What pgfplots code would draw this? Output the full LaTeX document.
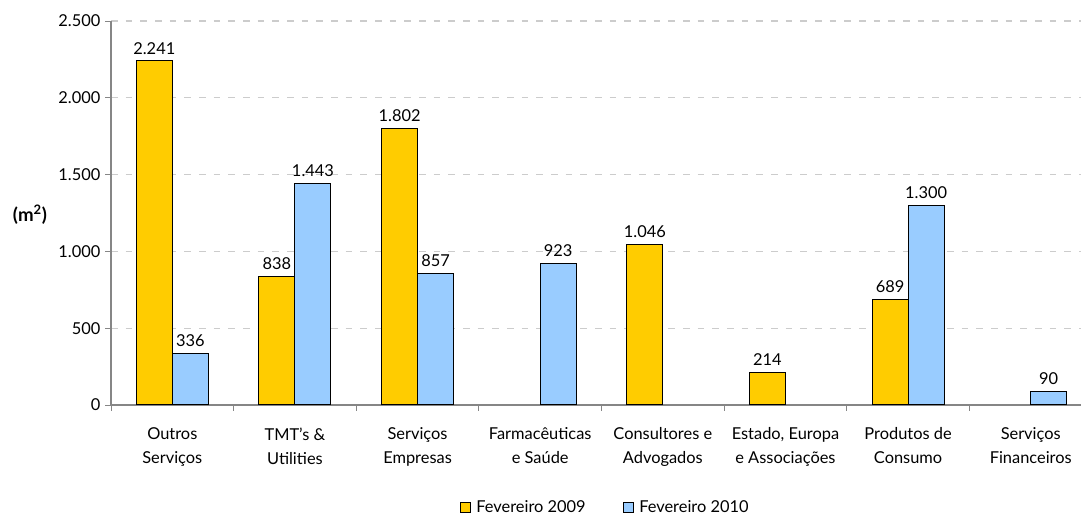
\documentclass[border=0pt]{standalone}
\usepackage{fontspec}
\setmainfont{Lato}
\usepackage{pgfplots}
\pgfplotsset{compat=1.18}
\definecolor{amarelo}{HTML}{FFCC00}
\definecolor{azul}{HTML}{99CCFF}
\definecolor{eixo}{HTML}{868686}
\begin{document}
\begin{tikzpicture}[font=\fontsize{12.3}{18}\selectfont]
\begin{axis}[
name=ax,
ybar=0pt,
bar width=27pt,
scale only axis,
width=727.5pt,
height=288pt,
xmin=-0.5, xmax=7.41,
ymin=0, ymax=2500,
ytick={0,500,...,2500},
xtick={0,...,7},
xticklabels={Outros\\Serviços, TMT's \&\\Utilities, Serviços\\Empresas, Farmacêuticas\\e Saúde, Consultores e\\Advogados, {Estado, Europa\\e Associações}, Produtos de\\Consumo, Serviços\\Financeiros},
xticklabel style={align=center, yshift=-9pt},
major x tick style={draw=none},
minor xtick={-0.5,0.5,...,6.5},
minor tick length=4.5pt,
major tick length=4.5pt,
tick align=outside,
axis x line*=bottom,
axis y line*=left,
axis line style={eixo, line width=0.9pt, -},
every tick/.style={eixo, line width=0.7pt},
ymajorgrids=true,
grid style={dash pattern=on 5pt off 6pt, gray!40, line width=0.8pt},
/pgf/number format/.cd, 1000 sep={.}, assume math mode=true,
/pgfplots/.cd,
nodes near coords,
nodes near coords style={font=\fontsize{12.3}{14}\selectfont, text=black, yshift=1pt},
legend columns=2,
legend style={draw=none, at={(0.51,-0.268)}, anchor=center, font=\fontsize{12.3}{14}\selectfont,
  /tikz/every even column/.append style={column sep=26pt},
  /tikz/every odd column/.append style={column sep=2pt}},
legend image code/.code={\draw[#1, draw=black, line width=0.7pt] (0pt,-3.75pt) rectangle (7.5pt,3.75pt);},
]
\addplot[fill=amarelo, draw=black, line width=0.8pt] coordinates {
(0,2241) (1,838) (2,1802) (4,1046) (5,214) (6,689)
};
\addplot[fill=azul, draw=black, line width=0.8pt] coordinates {
(0,336) (1,1443) (2,857) (3,923) (6,1300) (7,90)
};
\legend{Fevereiro 2009, Fevereiro 2010}
\end{axis}
\node[font=\bfseries\fontsize{14}{16}\selectfont] at ([xshift=-60.75pt,yshift=-1.5pt]ax.west) {(m\textsuperscript{2})};
\pgfresetboundingbox
\path[use as bounding box] ([xshift=-83.25pt,yshift=-85.5pt]ax.south west) rectangle ([yshift=15.75pt]ax.north east);
\end{tikzpicture}
\end{document}
